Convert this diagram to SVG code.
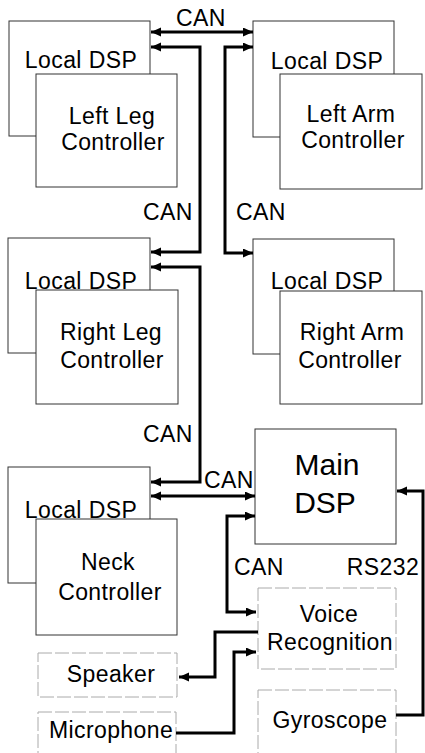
<svg xmlns="http://www.w3.org/2000/svg" width="425" height="753" viewBox="0 0 425 753">
<style>
.box{fill:#fff;stroke:#333;stroke-width:1}
.faint{fill:#fff;stroke:#aaa;stroke-width:1;stroke-dasharray:14 3}
text{font-family:"Liberation Sans",Arial,sans-serif;font-size:23px;letter-spacing:0.4px;fill:#000;text-anchor:middle}
.big{font-size:30px;letter-spacing:0}
.conn{fill:none;stroke:#000;stroke-width:3}
</style>
<defs>
<marker id="ah" markerUnits="userSpaceOnUse" markerWidth="11" markerHeight="10" refX="10" refY="4.5" orient="auto-start-reverse"><path d="M0,0 L10,4.5 L0,9 z" fill="#000"/></marker>
</defs>
<rect width="425" height="753" fill="#fff"/>
<g id="leftleg">
<rect class="box" x="9" y="21" width="141" height="115"/>
<text x="81" y="68">Local DSP</text>
<rect class="box" x="36" y="74" width="141" height="113"/>
<text x="112" y="124">Left Leg</text>
<text x="113" y="150">Controller</text>
</g>
<g id="leftarm">
<rect class="box" x="253" y="21" width="141" height="116"/>
<text x="327" y="69">Local DSP</text>
<rect class="box" x="280" y="74" width="142" height="115"/>
<text x="351" y="122">Left Arm</text>
<text x="353" y="148">Controller</text>
</g>
<g id="rightleg">
<rect class="box" x="8" y="238" width="142" height="115"/>
<text x="81" y="289">Local DSP</text>
<rect class="box" x="36" y="290" width="142" height="114"/>
<text x="111" y="340">Right Leg</text>
<text x="112" y="368">Controller</text>
</g>
<g id="rightarm">
<rect class="box" x="253" y="239" width="141" height="115"/>
<text x="327" y="289">Local DSP</text>
<rect class="box" x="280" y="291" width="142" height="113"/>
<text x="352" y="340">Right Arm</text>
<text x="350" y="368">Controller</text>
</g>
<g id="neck">
<rect class="box" x="8" y="467" width="142" height="116"/>
<text x="81" y="518">Local DSP</text>
<rect class="box" x="36" y="519" width="141" height="116"/>
<text x="108" y="570">Neck</text>
<text x="110" y="600">Controller</text>
</g>
<g id="maindsp">
<rect class="box" x="255" y="429" width="141" height="115"/>
<text class="big" x="327" y="475">Main</text>
<text class="big" x="325" y="513">DSP</text>
</g>
<g id="voice">
<rect class="faint" x="258" y="588" width="138" height="81"/>
<text x="329" y="622">Voice</text>
<text x="330" y="650">Recognition</text>
</g>
<g id="speaker">
<rect class="faint" x="38" y="653" width="139" height="44"/>
<text x="111" y="682">Speaker</text>
</g>
<g id="microphone">
<rect class="faint" x="38" y="712" width="138" height="50"/>
<text x="111" y="738">Microphone</text>
</g>
<g id="gyroscope">
<rect class="faint" x="258" y="690" width="138" height="70"/>
<text x="330" y="728">Gyroscope</text>
</g>
<g id="connectors">
<path class="conn" d="M151,32 H253" marker-start="url(#ah)" marker-end="url(#ah)"/>
<path class="conn" d="M151,47 H200 V252 H151" marker-start="url(#ah)" marker-end="url(#ah)"/>
<path class="conn" d="M253,47 H225 V253 H253" marker-start="url(#ah)" marker-end="url(#ah)"/>
<path class="conn" d="M151,267 H200 V482 H151" marker-start="url(#ah)" marker-end="url(#ah)"/>
<path class="conn" d="M151,496 H255" marker-start="url(#ah)" marker-end="url(#ah)"/>
<path class="conn" d="M255,516 H227 V612 H256" marker-start="url(#ah)" marker-end="url(#ah)"/>
<path class="conn" d="M396,715 H423 V491 H397" marker-end="url(#ah)"/>
<path class="conn" d="M258,632 H215 V677 H179" marker-end="url(#ah)"/>
<path class="conn" d="M176,733 H234 V652 H256" marker-end="url(#ah)"/>
<text x="201" y="26">CAN</text>
<text x="168" y="220">CAN</text>
<text x="261" y="220">CAN</text>
<text x="168" y="442">CAN</text>
<text x="229" y="488">CAN</text>
<text x="259" y="575">CAN</text>
<text x="383" y="575">RS232</text>
</g>
</svg>
